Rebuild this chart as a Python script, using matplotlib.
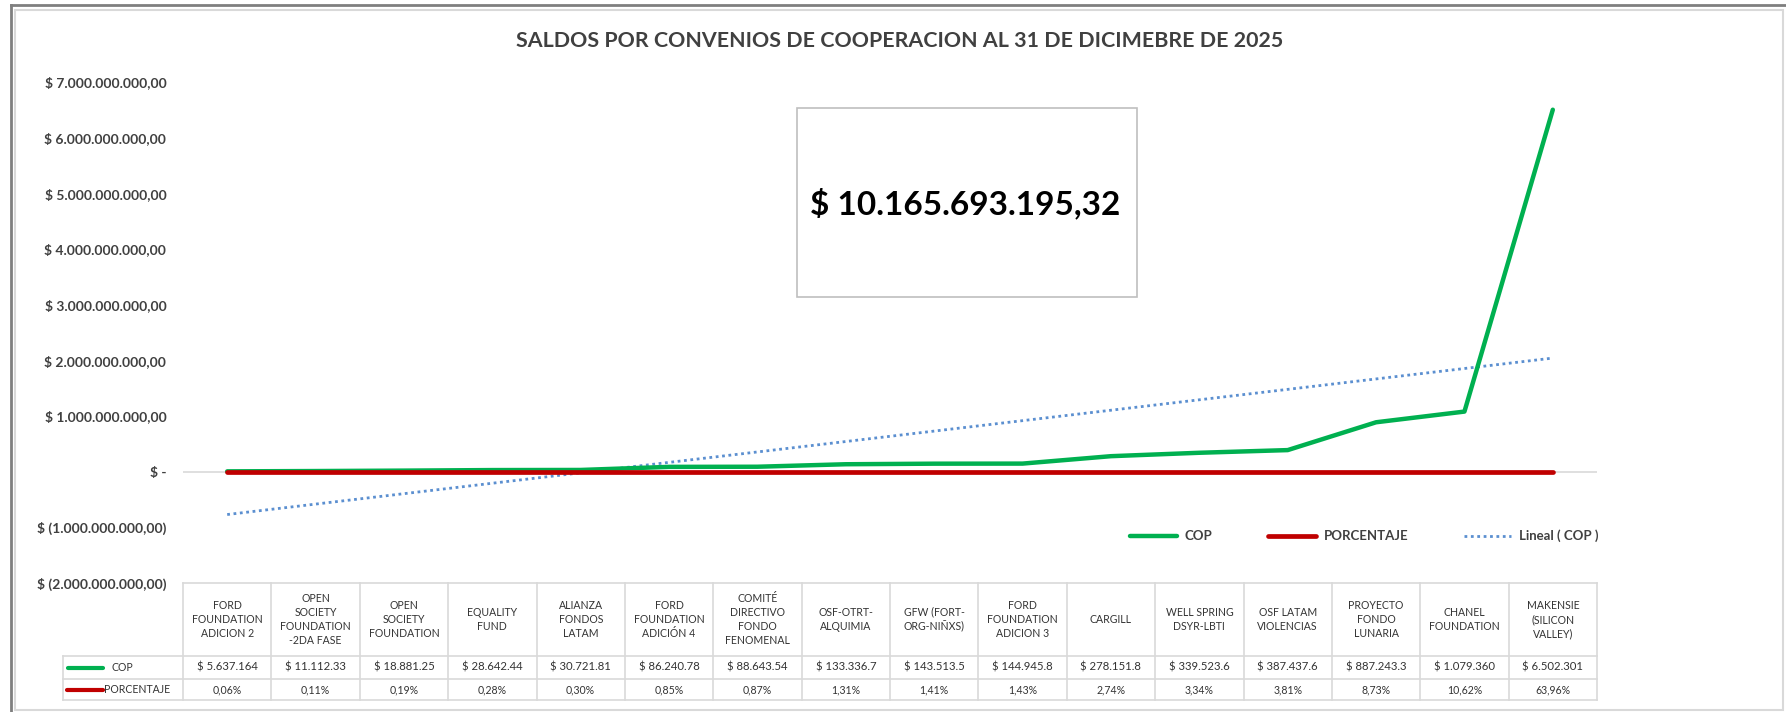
import numpy as np
import matplotlib
matplotlib.use('Agg')
from matplotlib import pyplot as plt
from matplotlib.lines import Line2D
from matplotlib.patches import Rectangle
from matplotlib.transforms import blended_transform_factory

plt.rcParams['font.family'] = ['Lato', 'DejaVu Sans']

# datos
convenios = ['FORD\nFOUNDATION\nADICION 2', 'OPEN\nSOCIETY\nFOUNDATION\n-2DA FASE', 'OPEN\nSOCIETY\nFOUNDATION',
             'EQUALITY\nFUND', 'ALIANZA\nFONDOS\nLATAM', 'FORD\nFOUNDATION\nADICIÓN 4',
             'COMITÉ\nDIRECTIVO\nFONDO\nFENOMENAL', 'OSF-OTRT-\nALQUIMIA', 'GFW (FORT-\nORG-NIÑXS)',
             'FORD\nFOUNDATION\nADICION 3', 'CARGILL', 'WELL SPRING\nDSYR-LBTI', 'OSF LATAM\nVIOLENCIAS',
             'PROYECTO\nFONDO\nLUNARIA', 'CHANEL\nFOUNDATION', 'MAKENSIE\n(SILICON\nVALLEY)']
cop = [5637164, 11112330, 18881250, 28642440, 30721810, 86240780, 88643540, 133336700,
       143513500, 144945800, 278151800, 339523600, 387437600, 887243300, 1079360000, 6502301000]
cop_labels = ['$ 5.637.164', '$ 11.112.33', '$ 18.881.25', '$ 28.642.44', '$ 30.721.81', '$ 86.240.78',
              '$ 88.643.54', '$ 133.336.7', '$ 143.513.5', '$ 144.945.8', '$ 278.151.8', '$ 339.523.6',
              '$ 387.437.6', '$ 887.243.3', '$ 1.079.360', '$ 6.502.301']
porcentaje = [0.06, 0.11, 0.19, 0.28, 0.30, 0.85, 0.87, 1.31, 1.41, 1.43, 2.74, 3.34, 3.81, 8.73, 10.62, 63.96]
total_label = '$ 10.165.693.195,32'
titulo = 'SALDOS POR CONVENIOS DE COOPERACION AL 31 DE DICIMEBRE DE 2025'

GREEN = '#00B050'
RED = '#C00000'
BLUE = '#5B8FD0'
TXT = '#404040'
TAB = '#333333'
GRID = '#D9D9D9'

W, H = 1786, 712


def fx(px):
    return px / W


def fy(py):
    return 1 - py / H


def fmt_peso(v, pos=None):
    if v == 0:
        return '$ -'
    s = f'{abs(v):,.2f}'.replace(',', 'X').replace('.', ',').replace('X', '.')
    return f'$ ({s})' if v < 0 else f'$ {s}'


fig = plt.figure(figsize=(W / 100, H / 100), dpi=100)

# marco de la captura
fig.add_artist(Line2D([fx(11), 1], [fy(5), fy(5)], color='#7F7F7F', lw=2))
fig.add_artist(Line2D([fx(11), fx(11)], [fy(5), 0], color='#7F7F7F', lw=2))
fig.add_artist(Rectangle((fx(15), fy(710)), fx(1783) - fx(15), fy(10) - fy(710), fill=False,
                         ec=GRID, lw=1.5))

ax_left, ax_right, ax_top, ax_bot = 183, 1597, 82, 583
ax = fig.add_axes([fx(ax_left), fy(ax_bot), fx(ax_right - ax_left), fy(ax_top) - fy(ax_bot)])

x = np.arange(len(cop))
pct = np.array(porcentaje) / 100
coef = np.polyfit(x + 1, cop, 1)
trend = np.polyval(coef, x + 1)

ax.axhline(0, color=GRID, lw=1.2, zorder=1)
l_cop, = ax.plot(x, cop, color=GREEN, lw=3.2, solid_capstyle='round', label='COP', zorder=3)
l_pct, = ax.plot(x, pct, color=RED, lw=3.4, solid_capstyle='round', label='PORCENTAJE', zorder=4)
l_tr, = ax.plot(x, trend, color=BLUE, lw=2, ls=(0, (1, 1.3)), label='Lineal ( COP )', zorder=2)

ax.set_xlim(-0.5, len(cop) - 0.5)
ax.set_ylim(-2e9, 7e9)
ax.set_yticks(np.arange(-2e9, 7.1e9, 1e9))
ax.yaxis.set_major_formatter(plt.FuncFormatter(fmt_peso))
ax.tick_params(axis='y', length=0, pad=12, labelsize=10, labelcolor=TXT)
for t in ax.get_yticklabels():
    t.set_fontweight('bold')
ax.set_xticks([])
for s in ax.spines.values():
    s.set_visible(False)
ax.patch.set_alpha(0)

fig.text(fx(900), fy(41), titulo, ha='center', va='center', fontsize=15.4, fontweight='bold', color=TXT)

# recuadro con el total
fig.add_artist(Rectangle((fx(797), fy(297)), fx(1137 - 797), fy(108) - fy(297), fill=False,
                         ec='#BFBFBF', lw=1.2))
fig.text(fx(965), fy(203), total_label, ha='center', va='center', fontsize=24, fontweight='bold',
         color='black')

ax.legend(handles=[l_cop, l_pct, l_tr], ncol=3, frameon=False, loc='center',
          bbox_to_anchor=(fx(1364), fy(536)), bbox_transform=fig.transFigure,
          handlelength=3.6, columnspacing=4.2, handletextpad=0.6,
          prop={'size': 9.5, 'weight': 'bold'}, labelcolor=TXT)

# tabla de datos
tr = blended_transform_factory(ax.transData, fig.transFigure)
y_head_top, y_head_bot, y_cop_bot, y_pct_bot = 583, 656, 679, 700
label_left = -0.5 - (183 - 63) / ((ax_right - ax_left) / len(cop))
lkw = dict(color=GRID, lw=1.2, transform=tr, clip_on=False)

for b in np.arange(len(cop) + 1) - 0.5:
    ax.add_line(Line2D([b, b], [fy(y_head_top), fy(y_pct_bot)], **lkw))
ax.add_line(Line2D([label_left, label_left], [fy(y_head_bot), fy(y_pct_bot)], **lkw))
ax.add_line(Line2D([-0.5, len(cop) - 0.5], [fy(y_head_top)] * 2, **lkw))
for yy in (y_head_bot, y_cop_bot, y_pct_bot):
    ax.add_line(Line2D([label_left, len(cop) - 0.5], [fy(yy)] * 2, **lkw))

for i, name in enumerate(convenios):
    ax.text(i, fy((y_head_top + y_head_bot) / 2), name, transform=tr, ha='center', va='center',
            fontsize=7.6, color=TAB, linespacing=1.35, clip_on=False)
    ax.text(i, fy((y_head_bot + y_cop_bot) / 2), cop_labels[i], transform=tr, ha='center',
            va='center', fontsize=8.2, color=TAB, clip_on=False)
    ax.text(i, fy((y_cop_bot + y_pct_bot) / 2), f'{porcentaje[i]:.2f}%'.replace('.', ','),
            transform=tr, ha='center', va='center', fontsize=7.6, color=TAB, clip_on=False)

# claves de las filas
yc = (y_head_bot + y_cop_bot) / 2
yp = (y_cop_bot + y_pct_bot) / 2
fig.add_artist(Line2D([fx(68), fx(103)], [fy(yc)] * 2, color=GREEN, lw=3, solid_capstyle='round'))
fig.text(fx(111), fy(yc), 'COP', ha='left', va='center', fontsize=7.6, color=TAB)
fig.add_artist(Line2D([fx(67), fx(103)], [fy(yp)] * 2, color=RED, lw=3, solid_capstyle='round'))
fig.text(fx(104), fy(yp), 'PORCENTAJE', ha='left', va='center', fontsize=7.6, color=TAB)

fig.savefig('out.png', dpi=100, facecolor='white')
